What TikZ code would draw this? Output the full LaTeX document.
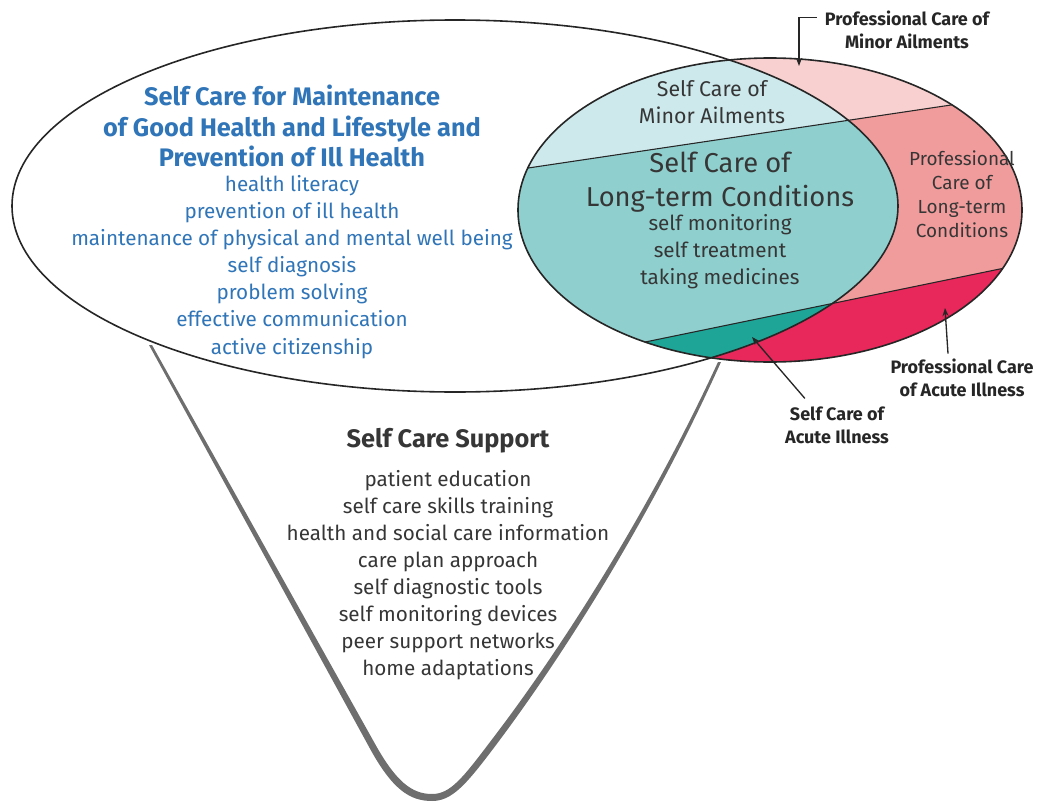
\documentclass[tikz,border=0pt]{standalone}
\usepackage{fontspec}
\setmainfont{Fira Sans}
\usetikzlibrary{arrows.meta}

\definecolor{scblue}{HTML}{2F75B8}
\definecolor{scdark}{HTML}{363636}
\definecolor{minorself}{HTML}{CDE9EC}
\definecolor{minorprof}{HTML}{F8D0CF}
\definecolor{ltself}{HTML}{8FD0CF}
\definecolor{ltprof}{HTML}{F19C9C}
\definecolor{acuteself}{HTML}{1FA597}
\definecolor{acuteprof}{HTML}{E8275A}
\definecolor{funnelgrey}{HTML}{6E6E6E}

\begin{document}
\begin{tikzpicture}[x=0.75pt,y=-0.75pt,
  outline/.style={draw=black!85,line width=1.2pt},
  divider/.style={draw=black!85,line width=0.8pt},
  leader/.style={draw=black!85,line width=1pt,-{Stealth[length=6pt,width=4.5pt]}},
  bluehead/.style={align=center,inner sep=0pt,text=scblue,font=\bfseries\fontsize{19}{23.2}\selectfont},
  bluelist/.style={align=center,inner sep=0pt,text=scblue,font=\fontsize{15.5}{20.3}\selectfont},
  darklist/.style={align=center,inner sep=0pt,text=scdark,font=\fontsize{15.5}{20.3}\selectfont},
  tag/.style={align=center,inner sep=0pt,text=black!85,font=\bfseries\fontsize{13.5}{17}\selectfont}]
\useasboundingbox (0,0) rectangle (1043,803);

% funnel
\fill[funnelgrey] (149,345) -- (368,745) .. controls (392,790) and (410,801) .. (432,801)
  .. controls (452,801) and (466,785) .. (496,745) .. controls (560,660) and (650,520) .. (721,362)
  -- (718,362) .. controls (646,518) and (556,656) .. (490,742) .. controls (462,779) and (450,794) .. (432,794)
  .. controls (412,794) and (396,782) .. (374,742) -- (152,345) -- cycle;

% self care vs professional care
\fill[white] (455,206) ellipse [x radius=443, y radius=186];
\begin{scope}
  \clip (770,210) ellipse [x radius=252, y radius=152];
  \fill[minorprof] (500,0) -- (1043,0) -- (1043,91.3) -- (500,172.2) -- cycle;
  \fill[ltprof] (500,172.2) -- (1043,91.3) -- (1043,260.1) -- (500,371.9) -- cycle;
  \fill[acuteprof] (500,371.9) -- (1043,260.1) -- (1043,420) -- (500,420) -- cycle;
  \begin{scope}
    \clip (455,206) ellipse [x radius=443, y radius=186];
    \fill[minorself] (500,0) -- (1043,0) -- (1043,91.3) -- (500,172.2) -- cycle;
    \fill[ltself] (500,172.2) -- (1043,91.3) -- (1043,260.1) -- (500,371.9) -- cycle;
    \fill[acuteself] (500,371.9) -- (1043,260.1) -- (1043,420) -- (500,420) -- cycle;
  \end{scope}
  \draw[divider] (500,172.2) -- (1043,91.3);
  \draw[divider] (500,371.9) -- (1043,260.1);
\end{scope}
\draw[outline] (455,206) ellipse [x radius=443, y radius=186];
\draw[outline] (770,210) ellipse [x radius=252, y radius=152];

% big ellipse
\node[bluehead] (maint) at (292,126) {Self Care for Maintenance\\of Good Health and Lifestyle and\\Prevention of Ill Health};
\node[bluelist] (maintlist) at (292,267) {health literacy\\prevention of ill health\\maintenance of physical and mental well being\\self diagnosis\\problem solving\\effective communication\\active citizenship};

% small ellipse
\node[darklist,font=\fontsize{16}{20.3}\selectfont] (scminor) at (712,102) {Self Care of\\Minor Ailments};
\node[darklist,font=\fontsize{20.5}{25}\selectfont] (sclong) at (720,182) {Self Care of\\Long-term Conditions};
\node[darklist] (sclonglist) at (720,252) {self monitoring\\self treatment\\taking medicines};
\node[darklist,font=\fontsize{14.2}{18}\selectfont] (pclong) at (962,194) {Professional\\Care of\\Long-term\\Conditions};

% outside labels
\node[tag] (pcminor) at (907,30) {Professional Care of\\Minor Ailments};
\node[tag] (pcacute) at (962,378) {Professional Care\\of Acute Illness};
\node[tag] (scacute) at (837,425) {Self Care of\\Acute Illness};
\coordinate (pcminortip) at (799,66);
\coordinate (pcacutetip) at (945,308);
\coordinate (scacutetip) at (752,337);
\draw[leader] ([xshift=-6pt,yshift=-5pt]pcminor.north west) -| (pcminortip);
\draw[leader] ([xshift=-10.5pt,yshift=4pt]pcacute.north) -- (pcacutetip);
\draw[leader] ([xshift=15pt,yshift=6pt]scacute.north west) -- (scacutetip);

% funnel
\node[darklist,font=\bfseries\fontsize{19}{22}\selectfont] (support) at (448,441) {Self Care Support};
\node[darklist] (supportlist) at (448,575) {patient education\\self care skills training\\health and social care information\\care plan approach\\self diagnostic tools\\self monitoring devices\\peer support networks\\home adaptations};
\end{tikzpicture}
\end{document}
